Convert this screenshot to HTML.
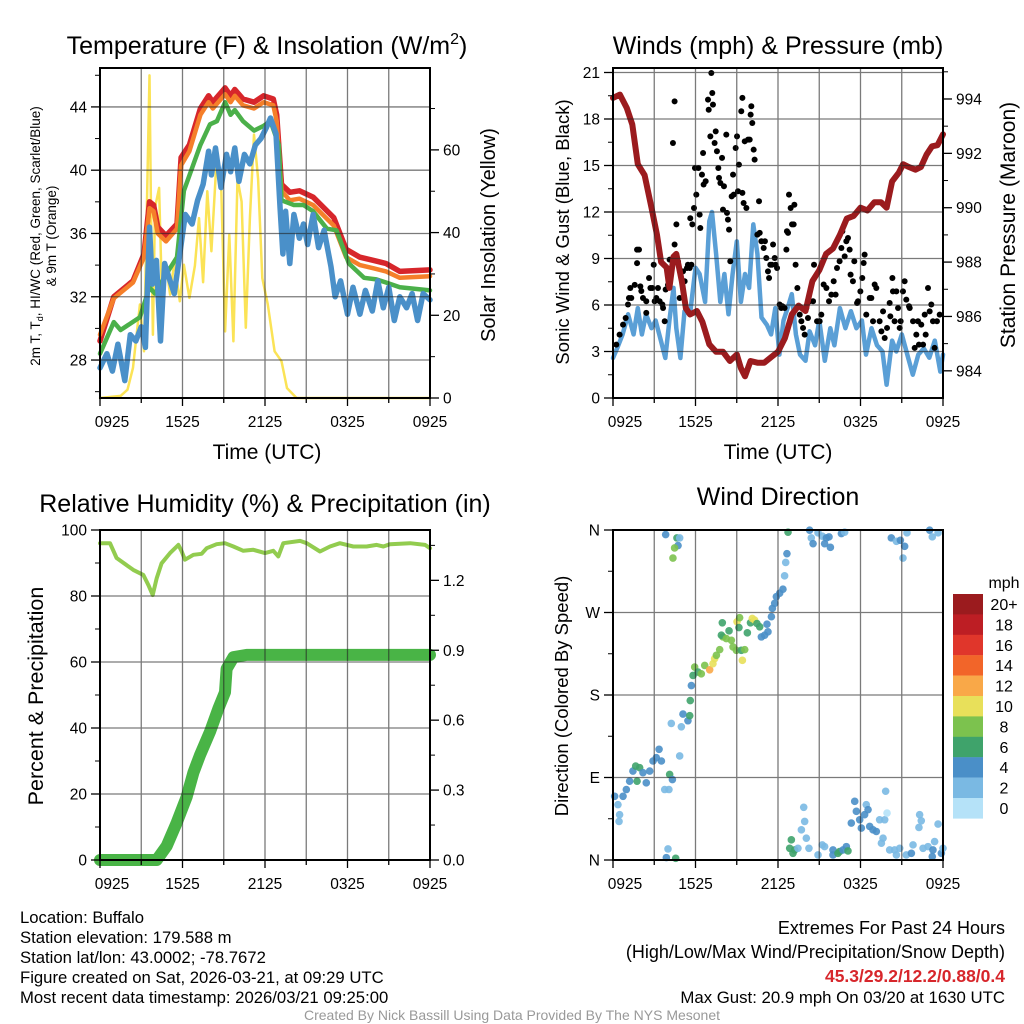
<!DOCTYPE html>
<html><head><meta charset="utf-8"><style>
html,body{margin:0;padding:0;background:#fff;}
svg{display:block;font-family:"Liberation Sans",sans-serif;}
</style></head><body>
<svg id="fig" width="1024" height="1024" viewBox="0 0 1024 1024" xmlns="http://www.w3.org/2000/svg">
<rect x="0" y="0" width="1024" height="1024" fill="#fff"/>
<g id="g1"></g>
<g id="g2"></g>
<g id="g3"></g>
<g id="g4"></g>
<text x="267" y="54" font-size="25" text-anchor="middle">Temperature (F) &amp; Insolation (W/m<tspan font-size="16" dy="-10">2</tspan><tspan dy="10">)</tspan></text>
<text x="778" y="54" font-size="25" text-anchor="middle">Winds (mph) &amp; Pressure (mb)</text>
<text x="265" y="512" font-size="25" text-anchor="middle">Relative Humidity (%) &amp; Precipitation (in)</text>
<text x="778" y="505" font-size="25" text-anchor="middle">Wind Direction</text>
<text x="267" y="459" font-size="21" text-anchor="middle">Time (UTC)</text>
<text x="778" y="459" font-size="21" text-anchor="middle">Time (UTC)</text>
<text transform="translate(40,236) rotate(-90)" font-size="13.5" text-anchor="middle">2m T, T<tspan font-size="9" dy="3">d</tspan><tspan dy="-3">, HI/WC (Red, Green, Scarlet/Blue)</tspan></text>
<text transform="translate(56,236) rotate(-90)" font-size="13.5" text-anchor="middle">&amp; 9m T (Orange)</text>
<text transform="translate(495,235) rotate(-90)" font-size="20" text-anchor="middle">Solar Insolation (Yellow)</text>
<text transform="translate(569,232) rotate(-90)" font-size="18.5" text-anchor="middle">Sonic Wind &amp; Gust (Blue, Black)</text>
<text transform="translate(1015,225) rotate(-90)" font-size="21" text-anchor="middle">Station Pressure (Maroon)</text>
<text transform="translate(43,696) rotate(-90)" font-size="21.5" text-anchor="middle">Percent &amp; Precipitation</text>
<text transform="translate(568,696) rotate(-90)" font-size="18.5" text-anchor="middle">Direction (Colored By Speed)</text>
<g font-size="16.7">
<text x="20" y="923">Location: Buffalo</text>
<text x="20" y="943">Station elevation: 179.588 m</text>
<text x="20" y="963">Station lat/lon: 43.0002; -78.7672</text>
<text x="20" y="983">Figure created on Sat, 2026-03-21, at 09:29 UTC</text>
<text x="20" y="1003">Most recent data timestamp: 2026/03/21 09:25:00</text>
</g>
<g font-size="18" text-anchor="end">
<text x="1005" y="934">Extremes For Past 24 Hours</text>
<text x="1005" y="958">(High/Low/Max Wind/Precipitation/Snow Depth)</text>
<text x="1005" y="982" fill="#d7262b" font-weight="bold" font-size="17.5">45.3/29.2/12.2/0.88/0.4</text>
<text x="1005" y="1003" font-size="16.8">Max Gust: 20.9 mph On 03/20 at 1630 UTC</text>
</g>
<text x="512" y="1020" font-size="14" fill="#999" text-anchor="middle">Created By Nick Bassill Using Data Provided By The NYS Mesonet</text>
</svg>
<script>
// ---- data ----
const timeLabels = ["0925","1525","2125","0325","0925"];
const redT = [0,29.2,1,32.0,2.4,33.0,3.2,34.7,3.6,38.0,3.9,37.8,4.2,36.4,4.8,35.85,5.6,36.6,5.9,40.8,6.5,41.6,7.3,43.9,7.9,44.7,8.2,44.3,9.1,45.2,9.5,44.7,9.8,45.1,10.4,44.5,11.2,44.3,11.9,44.7,12.6,44.5,12.85,43.5,13.2,39.1,13.8,38.6,14.5,38.7,15.5,38.3,17,37.0,17.9,35.0,18.9,34.5,19.9,34.3,20.8,34.1,21.8,33.6,24,33.7];
const orangeT = [0,29.6,1,31.9,2.4,32.9,3.2,34.5,3.6,37.6,3.9,37.4,4.2,36.0,4.8,35.5,5.6,36.3,5.9,40.3,6.5,41.2,7.3,43.5,7.9,44.3,8.2,43.9,9.1,44.8,9.5,44.3,9.8,44.7,10.4,44.1,11.2,43.9,11.9,44.3,12.6,44.1,12.85,43.1,13.2,38.7,13.8,38.1,14.5,38.2,15.5,37.8,17,36.5,17.9,34.5,18.9,34.0,19.9,33.8,20.8,33.6,21.8,33.2,24,33.3];
const greenT = [0,28.4,1,30.4,1.5,29.9,2.9,30.7,3.6,32.6,4.0,32.2,4.8,33.4,5.6,34.5,6.1,38.7,7.3,41.6,8.0,42.9,8.5,43.1,9.1,44.3,9.5,43.5,9.8,43.8,10.4,43.1,11.2,42.5,11.9,42.8,12.4,43.1,13.0,41.6,13.2,38.1,14.1,37.8,14.8,37.8,15.5,37.4,16.5,36.3,17.2,36.2,18.1,34.1,19.2,33.2,20.1,33.1,20.8,32.9,21.8,32.6,24,32.4];
const blueT = [0,27.5,0.5,28.4,0.9,27.3,1.3,29.0,1.8,26.7,2.2,29.6,2.6,29.2,3.0,30.1,3.3,28.8,3.6,36.4,3.8,32.8,4.1,34.3,4.4,29.2,4.7,34.1,5.1,33.0,5.4,32.2,5.8,34.7,6.2,37.2,6.7,36.6,7.1,38.1,7.5,39.1,7.9,41.2,8.1,39.7,8.4,41.4,8.8,38.9,9.2,41.0,9.5,39.9,9.8,41.4,10.1,39.3,10.5,41.0,10.9,40.4,11.3,41.6,11.7,42.0,12.1,42.7,12.4,43.3,12.8,42.3,13.1,37.6,13.3,34.7,13.5,37.4,13.8,34.1,14.1,37.2,14.5,35.7,14.8,36.6,15.1,35.3,15.5,37.2,15.9,35.1,16.3,36.2,16.8,33.9,17.1,32.0,17.5,33.0,18.0,30.9,18.4,32.6,18.9,30.9,19.3,32.4,19.8,31.1,20.2,33.0,20.6,31.3,21.0,32.6,21.4,30.5,21.8,32.0,22.3,31.3,22.7,32.2,23.1,30.5,23.5,32.2,24,31.8];
const insol = [0,0,1.5,0.5,2.0,2,2.4,7.3,2.9,22.6,3.2,11.3,3.6,78,3.7,47.5,3.85,15.3,4.0,46,4.3,50.8,4.5,25,4.8,32.2,5.1,25,5.4,33,5.8,23.4,6.1,32.2,6.5,24.2,6.9,32,7.2,43.5,7.5,28,7.8,50,8.1,35.5,8.5,59,8.8,53,9.1,16.1,9.4,39.5,9.7,13.7,10.0,53,10.3,47.5,10.6,17,10.9,43.5,11.2,63.7,11.5,53,11.8,29,12.2,22.6,12.7,11.3,13.2,8.9,13.6,2.4,14.3,0,24,0];
const pressure = [0,994.04,0.5,994.16,1,993.67,1.4,993.06,1.8,991.6,2.3,991.2,2.8,990.0,3.2,989.0,3.5,988.0,3.9,987.8,4.1,987.05,4.4,988.2,4.6,988.3,5.0,987.3,5.3,986.3,5.6,986.07,6.1,986.2,6.5,985.8,7.0,984.97,7.5,984.7,8.0,984.7,8.5,984.36,9.0,984.6,9.3,984.1,9.6,983.8,10,984.36,10.5,984.3,11,984.3,11.5,984.5,12,984.7,12.5,985.2,13,986.07,13.5,986.4,14,986.2,14.5,987.3,15,987.7,15.5,988.3,16,988.5,16.5,989.0,17,989.6,17.5,989.7,18,990.0,18.5,989.9,19,990.2,19.5,990.2,19.9,990.0,20.3,990.97,20.8,991.3,21.1,991.6,21.5,991.5,22,991.4,22.4,991.5,22.8,991.95,23.2,992.26,23.6,992.3,24,992.7];
const windSpd = [0,2.58,0.3,3.2,0.7,4.1,1.1,5.4,1.5,4.1,1.8,5.8,2.1,4.1,2.4,5.4,2.8,4.5,3.1,5.0,3.5,3.65,3.8,2.58,4.1,5.0,4.4,7.1,4.6,4.5,4.9,2.58,5.2,5.6,5.6,5.4,6,8.4,6.3,8.0,6.7,6.2,7,11.4,7.2,12.0,7.5,9.3,7.8,6.2,8.1,8.0,8.4,5.4,8.7,8.0,9.0,10.1,9.3,6.2,9.6,8.0,9.9,7.1,10.2,11.2,10.5,9.3,10.8,5.2,11.2,4.7,11.5,4.1,11.8,5.8,12.1,2.8,12.4,5.0,12.7,5.8,13.0,6.7,13.3,4.1,13.6,2.8,14,2.4,14.3,4.3,14.7,3.4,15.0,5.0,15.4,2.4,15.8,4.5,16.1,3.4,16.5,5.8,16.9,4.5,17.3,5.6,17.7,4.5,18.1,5.0,18.4,2.8,18.8,4.5,19.2,3.4,19.6,3.0,19.9,0.86,20.3,3.7,20.6,3.0,21,4.1,21.4,2.8,21.8,1.5,22.2,2.8,22.6,3.2,23,2.6,23.4,3.7,23.8,1.7,24,2.8];
const gustTimes = [.24,.48,.73,.92,1.09,1.16,1.33,1.26,1.58,1.75,1.89,1.75,1.99,2.06,2.18,2.42,2.42,2.62,2.72,2.86,2.96,3.03,3.15,3.27,3.39,3.59,3.64,3.76,3.83,4.0,4.12,4.36,4.48,4.48,4.61,4.73,4.85,5.09,5.21,5.38,5.45,5.58,5.7,5.62,5.77,5.89,5.96,6.06,6.21,6.3,6.35,6.47,6.55,6.59,6.74,6.91,6.96,7.08,7.15,7.22,7.27,7.39,7.47,7.56,7.66,7.71,7.81,7.93,8.0,8.07,8.24,8.29,8.36,8.44,8.53,8.63,8.73,8.78,8.92,9.02,9.09,9.16,9.33,9.41,9.41,9.5,9.58,9.7,9.82,9.94,10.01,10.06,10.13,10.23,10.3,10.5,10.62,10.67,10.79,10.96,11.05,11.15,11.27,11.35,11.44,11.56,11.64,11.76,11.83,11.93,12.12,12.24,12.32,12.48,12.61,12.65,12.73,12.8,12.92,13.02,13.14,13.19,13.28,13.41,13.58,13.7,13.82,13.94,14.06,14.18,14.3,14.55,14.62,14.84,15.03,15.15,15.32,15.52,15.71,15.88,16.05,16.19,16.29,16.48,16.61,16.68,16.85,16.97,17.09,17.21,17.28,17.45,17.55,17.75,17.82,17.99,18.13,18.23,18.3,18.42,18.67,18.79,18.91,19.03,19.15,19.39,19.52,19.64,19.76,19.93,20.12,20.17,20.32,20.36,20.48,20.61,20.73,20.85,20.92,21.09,21.21,21.33,21.53,21.58,21.82,21.94,22.06,22.18,22.25,22.42,22.55,22.67,22.74,22.91,23.03,23.15,23.27,23.39,23.56,23.76];
const gustValues = [3.44,4.09,4.73,5.16,6.03,6.45,6.45,7.1,7.3,9.57,9.57,8.7,7.2,6.9,6.45,6.24,5.49,7.74,7.1,7.1,8.6,6.24,6.45,7.1,6.24,6.03,5.81,4.95,7.0,7.3,8.93,16.45,19.14,9.9,11.2,8.8,6.45,8.17,7.53,8.39,8.6,8.39,8.6,11.6,11.2,12.26,14.84,13.12,14.84,11.83,10.97,14.41,15.81,13.77,13.98,19.25,18.6,16.88,20.97,19.68,18.93,16.45,17.2,15.92,14.84,14.2,13.87,15.49,12.15,13.66,16.99,11.94,11.51,10.86,8.82,13.01,14.41,13.12,16.13,16.88,13.34,15.06,18.5,19.36,13.23,12.58,16.56,12.26,16.67,16.67,18.28,18.82,17.74,16.02,15.38,10.54,12.69,10.65,10.11,9.68,10.11,9.03,8.17,7.74,8.6,8.6,9.9,9.03,8.6,8.39,6.03,5.81,5.92,5.81,9.57,10.76,10.65,13.12,12.26,11.2,11.2,12.47,8.6,7.1,5.38,4.95,4.52,4.09,5.81,5.16,6.24,6.24,8.6,4.95,4.95,5.38,7.32,7.1,6.24,6.67,7.53,6.67,8.39,8.82,9.68,10.76,9.14,10.11,10.32,9.57,7.96,7.53,8.82,6.13,6.24,6.88,7.74,8.71,9.25,5.38,6.45,6.45,4.95,7.32,7.1,4.95,4.3,5.59,3.87,4.52,6.13,5.27,7.74,6.88,4.95,6.88,5.81,4.52,4.95,6.88,7.53,6.35,5.92,5.81,4.95,3.23,4.09,4.95,3.44,4.73,3.44,5.38,4.09,7.1,5.59,6.03,4.95,3.23,4.95,5.38];
const rh = [0,96,0.73,96,1.21,91.5,2.42,87.9,3.15,86.4,3.52,83.3,3.83,80.3,4.12,85.4,4.48,89.9,5.09,93,5.7,95.5,5.94,93.5,6.18,91,6.79,92.5,7.39,92.8,7.76,94.5,8.48,95.7,9.09,96,9.7,95,10.42,93.7,11.15,94,12.0,93,12.6,93.7,12.97,92,13.33,96,14.55,96.7,15.03,96,16.0,93.5,16.73,95,17.45,96,18.42,95,19.39,95,20.12,95.5,20.61,95,21.09,95.7,22.55,96,23.64,95.5,24,94.5];
const precip = [0,0,4.12,0,4.85,0.06,5.58,0.16,6.3,0.27,6.79,0.375,7.27,0.45,8.0,0.55,8.61,0.65,9.09,0.72,9.21,0.82,9.7,0.87,10.67,0.88,24,0.88];
const dirTimes = [.12,.36,.48,.44,.73,.97,1.21,1.45,1.65,1.75,1.94,2.18,2.42,2.67,2.91,3.15,3.35,3.52,3.76,4.07,4.12,4.32,4.85,4.24,4.97,5.09,5.45,5.58,5.62,5.7,5.82,5.94,6.18,6.42,6.67,7.03,7.27,7.39,7.52,7.76,8.0,7.88,7.95,8.24,8.44,8.61,8.73,8.97,9.02,9.21,9.16,9.33,9.41,9.58,9.77,10.0,10.13,10.3,10.47,10.67,10.79,11.03,11.27,11.2,11.52,11.59,11.76,11.88,12.12,12.36,12.48,12.56,12.65,12.73,14.3,14.42,14.55,14.91,15.22,15.52,15.39,15.81,15.71,16.61,16.85,20.24,20.61,20.9,21.09,21.21,21.38,23.03,23.22,23.64,3.83,4.65,4.85,4.73,4.48,4.36,4.0,3.88,4.56,12.97,12.85,13.09,13.21,13.45,13.7,13.94,13.87,14.06,14.25,14.91,15.22,15.39,16.0,16.0,16.36,16.48,16.73,16.97,17.09,17.33,17.58,17.7,17.94,18.06,18.3,18.42,18.55,18.67,18.91,19.15,19.39,19.64,19.52,19.76,19.83,19.93,20.12,20.48,20.85,20.61,21.33,21.7,21.82,22.3,22.42,22.25,22.55,22.91,23.27,23.22,23.39,23.64,23.88,24.0];
const dirDegrees = [69.5,60.4,49.4,42.1,69.5,76.9,86,97,102.5,86,100.7,95.2,84.2,97,108,111.6,120.8,108,76.9,76.9,93.3,87.8,113.5,149,145.3,159.2,151.9,157.4,173.9,190.3,201.3,210.5,205,203.1,212.3,207.5,214.1,219.6,223.3,229.5,243.4,245.2,258.8,241.6,250,239.7,232.4,228.8,259.9,264.3,253.6,228.8,217.8,229.5,247.8,258.8,263.5,261.7,258,254.4,243.4,245.2,248.9,257.3,265.4,274.5,280,287.3,291,295.4,310,324.6,334.2,357.6,359.8,351.4,345.1,356.9,353.2,351.4,345.1,341.1,352.5,356.1,357.6,351.4,347.7,348.8,329.4,342.2,356.9,359.8,352.5,356.9,355,351.4,351.4,343,340.4,329.4,12.1,2.6,1.8,22,12.8,7.3,11,12.8,32.9,42.1,57.5,23.8,12.8,5.5,16.5,14.6,11,5.5,7.3,9.2,11,14.6,9.9,40.3,64,53.1,43.9,34.8,49.4,60.4,54.9,36.6,32.9,31.1,43.9,23.8,18.3,43.9,75,51.2,11,11,12.8,5.5,5.5,7.3,16.5,49.4,42.8,35.5,12.8,14.6,11,3.7,20.1,39.2,7.3,12.8];
const dirSpeeds = [5,3,3,3,5,5,5,5,7,7,7,5,5,5,5,5,5,5,3,3,7,5,3,3,3,5,5,7,7,5,7,9,7,9,9,13,11,11,9,9,9,7,7,9,7,9,9,9,11,9,7,7,11,9,7,7,11,11,7,7,5,5,5,5,5,5,5,5,5,5,3,3,5,7,5,3,5,3,3,5,5,5,5,5,3,5,3,5,3,5,3,5,3,3,5,7,3,5,9,9,3,5,7,7,7,7,7,3,3,3,3,3,3,3,3,3,5,5,7,7,5,5,7,5,5,5,5,5,5,3,5,5,5,5,3,3,3,3,3,1,3,3,3,3,3,5,3,3,3,3,3,3,5,5,3,3,5,3];
const speedLabels = ["20+","18","16","14","12","10","8","6","4","2","0"];
const speedColors = ["#9b1b1e","#bd1e24","#e0362b","#f26529","#f9a848","#e8e05a","#7cc24e","#3fa36b","#4a8fc8","#7ab9e3","#b5e2f8"];
const tempTicks = [28,32,36,40,44];
const insolTicks = [0,20,40,60];
const windTicks = [0,3,6,9,12,15,18,21];
const pressTicks = [984,986,988,990,992,994];
const rhTicks = [0,20,40,60,80,100];
const precipTicks = ["0.0","0.3","0.6","0.9","1.2"];
const dirTicks = ["N","E","S","W","N"];

// ---- helpers ----
const NS="http://www.w3.org/2000/svg";
function mk(parent,tag,attrs){const e=document.createElementNS(NS,tag);for(const k in attrs)e.setAttribute(k,attrs[k]);parent.appendChild(e);return e;}
function P(x0,y0){return {x0:x0,y0:y0,w:330,h:330,xs:function(h){return x0+h/24*330;}};}
const p1=P(100,68),p2=P(613,68),p3=P(100,530),p4=P(613,530);
function lin(d0,d1,pan){return v=>pan.y0+pan.h-(v-d0)/(d1-d0)*pan.h;}
const yT=lin(25.6,46.46,p1), yI=lin(0,79.8,p1), yW=lin(0,21.29,p2), yP=lin(983.0,995.14,p2), yR=lin(0,100,p3), yPr=lin(0,1.416,p3), yD=lin(0,360,p4);

function pathFrom(arr,pan,ys){let d="";for(let i=0;i<arr.length;i+=2){d+=(i?"L":"M")+pan.xs(arr[i]).toFixed(1)+","+ys(arr[i+1]).toFixed(1);}return d;}
function series(g,arr,pan,ys,color,w,name){
  const e=mk(g,"path",{d:pathFrom(arr,pan,ys),fill:"none",stroke:color,"stroke-width":w,"stroke-linejoin":"round","stroke-linecap":"round"});
  
  
}
function grid(g,pan,yvals){
  const gg=mk(g,"g",{stroke:"#222","stroke-width":1.3,opacity:0.6});
  
  
  for(let h=3;h<24;h+=3){const x=pan.xs(h);mk(gg,"line",{x1:x,x2:x,y1:pan.y0,y2:pan.y0+pan.h});}
  yvals.forEach(y=>mk(gg,"line",{x1:pan.x0,x2:pan.x0+pan.w,y1:y,y2:y}));
}
function frame(g,pan,leftTicks,rightTicks,leftMinor,rightMinor){
  const fr=mk(g,"rect",{x:pan.x0,y:pan.y0,width:pan.w,height:pan.h,fill:"none",stroke:"#000","stroke-width":2});
  
  
  const ax=mk(g,"g",{"font-size":15.5,fill:"#000"});
  
  
  const by=pan.y0+pan.h;
  for(let h=0;h<=24;h+=3){const x=pan.xs(h);const L=(h%6===0)?8:5;mk(ax,"line",{x1:x,x2:x,y1:by,y2:by+L,stroke:"#000","stroke-width":1.3});}
  timeLabels.forEach((t,i)=>{const x=pan.xs(i*6);const tx=mk(ax,"text",{x:x+(i===0?12:0),y:by+29,"text-anchor":"middle"});tx.textContent=t;
    
    });
  leftTicks.forEach(t=>{mk(ax,"line",{x1:pan.x0-9,x2:pan.x0,y1:t.y,y2:t.y,stroke:"#000","stroke-width":1.3});
    const tx=mk(ax,"text",{x:pan.x0-13,y:t.y+5.5,"text-anchor":"end"});tx.textContent=t.l;
    
    });
  (leftMinor||[]).forEach(y=>mk(ax,"line",{x1:pan.x0-5,x2:pan.x0,y1:y,y2:y,stroke:"#000","stroke-width":1}));
  rightTicks.forEach(t=>{const rx=pan.x0+pan.w;mk(ax,"line",{x1:rx,x2:rx+9,y1:t.y,y2:t.y,stroke:"#000","stroke-width":1.3});
    const tx=mk(ax,"text",{x:rx+13,y:t.y+5.5,"text-anchor":"start"});tx.textContent=t.l;
    
    });
  (rightMinor||[]).forEach(y=>{const rx=pan.x0+pan.w;mk(ax,"line",{x1:rx,x2:rx+5,y1:y,y2:y,stroke:"#000","stroke-width":1});});
}

// ---- panel 1 ----
const g1=document.getElementById("g1");
series(g1,insol,p1,yI,"#fbe356",2.5,"insolation-line");
series(g1,redT,p1,yT,"#d7262b",5.5,"temperature-2m-line");
series(g1,orangeT,p1,yT,"#f57f2a",4.5,"temperature-9m-line");
series(g1,greenT,p1,yT,"#4bb04a",4.5,"dewpoint-line");
series(g1,blueT,p1,yT,"#4a90c9",5.5,"windchill-line");
grid(g1,p1,tempTicks.map(yT));
frame(g1,p1,tempTicks.map(v=>({y:yT(v),l:String(v)})),insolTicks.map(v=>({y:yI(v),l:String(v)})),[26,30,34,38,42,46].map(yT),[10,30,50,70].map(yI));

// ---- panel 2 ----
const g2=document.getElementById("g2");
series(g2,windSpd,p2,yW,"#5a9fd6",4.5,"sonic-wind-line");
gustTimes.forEach((t,i)=>{const c=mk(g2,"circle",{cx:p2.xs(t),cy:yW(gustValues[i]),r:3,fill:"#000"});
  
  });
series(g2,pressure,p2,yP,"#9b1b1e",6,"pressure-line");
grid(g2,p2,windTicks.slice(1).map(yW));
frame(g2,p2,windTicks.map(v=>({y:yW(v),l:String(v)})),pressTicks.map(v=>({y:yP(v),l:String(v)})),[1.5,4.5,7.5,10.5,13.5,16.5,19.5].map(yW),[985,987,989,991,993,995].map(yP));

// ---- panel 3 ----
const g3=document.getElementById("g3");
series(g3,rh,p3,yR,"#92cc4f",4,"relative-humidity-line");
series(g3,precip,p3,yPr,"#49b446",12,"precipitation-line");
grid(g3,p3,[20,40,60,80].map(yR));
frame(g3,p3,rhTicks.map(v=>({y:yR(v),l:String(v)})),precipTicks.map(v=>({y:yPr(parseFloat(v)),l:v})),[10,30,50,70,90].map(yR),[0.15,0.45,0.75,1.05,1.35].map(yPr));

// ---- panel 4 ----
const g4=document.getElementById("g4");
function colorFor(s){let idx=Math.min(10,Math.floor(s/2));return speedColors[10-idx];}
dirTimes.forEach((t,i)=>{const c=mk(g4,"circle",{cx:p4.xs(t),cy:yD(dirDegrees[i]),r:3.8,fill:colorFor(dirSpeeds[i]),opacity:0.9});
  
  });
grid(g4,p4,[90,180,270].map(yD));
frame(g4,p4,dirTicks.map((l,i)=>({y:yD(i*90),l:l})),[],[45,135,225,315].map(yD),null);
// colorbar
const cb=mk(g4,"g",{});


const cbt=mk(cb,"text",{x:1004,y:588,"font-size":16,"text-anchor":"middle"});cbt.textContent="mph";
speedLabels.forEach((l,i)=>{const y=594+i*20.4;
  const r=mk(cb,"rect",{x:953,y:y,width:30,height:20.6,fill:speedColors[i]});
  
  
  const t=mk(cb,"text",{x:1004,y:y+16,"font-size":16,"text-anchor":"middle"});t.textContent=l;
  
  });
</script>
</body></html>
